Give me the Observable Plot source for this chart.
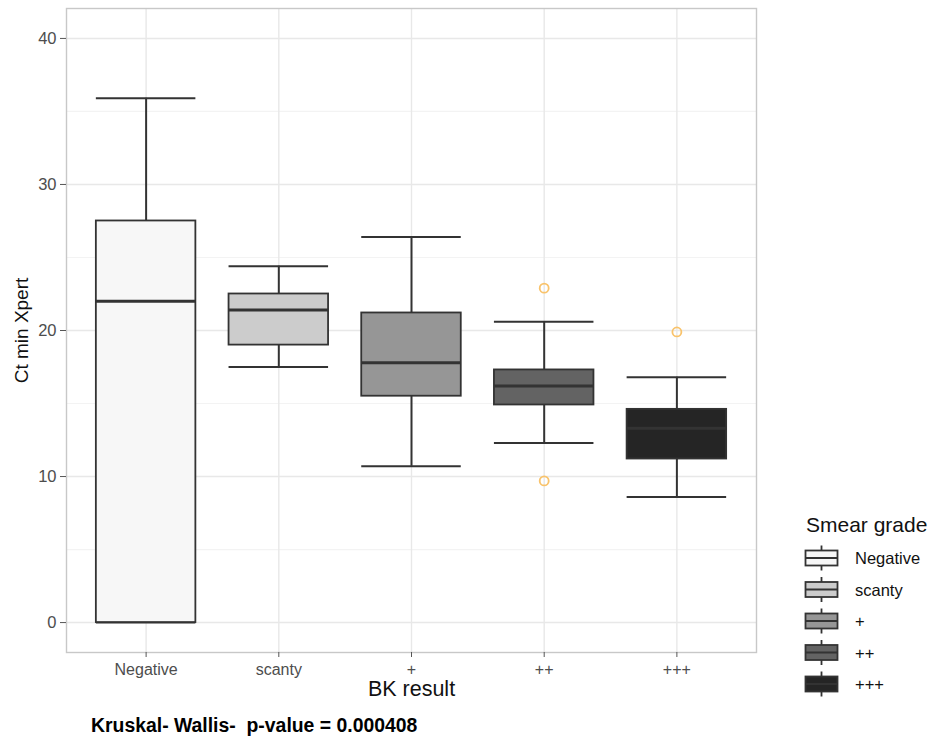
<!DOCTYPE html>
<html>
<head>
<meta charset="utf-8">
<script src="https://cdn.jsdelivr.net/npm/d3@7"></script>
<script src="https://cdn.jsdelivr.net/npm/@observablehq/plot@0.6"></script>
<style>
  html, body { margin: 0; padding: 0; background: #fff; }
  #wrap { position: relative; width: 945px; height: 736px; font-family: "Liberation Sans", Arial, sans-serif; }
  #chart { position: absolute; left: 0; top: 0; }
  #legend { position: absolute; left: 790px; top: 500px; }
  #caption { position: absolute; left: 91px; top: 714px; font-size: 19.4px; line-height: 22px; font-weight: bold; color: #000; white-space: pre; }
</style>
</head>
<body>
<div id="wrap">
  <div id="chart"></div>
  <div id="legend"></div>
  <div id="caption"></div>
</div>
<script>
// ---- data ----
const categories = ["Negative", "scanty", "+", "++", "+++"];
const upperWhisker = [35.9, 24.4, 26.4, 20.6, 16.8];
const q3 = [27.5, 22.5, 21.2, 17.3, 14.6];
const median = [22.0, 21.4, 17.8, 16.2, 13.3];
const q1 = [0.0, 19.0, 15.5, 14.9, 11.2];
const lowerWhisker = [0.0, 17.5, 10.7, 12.3, 8.6];
const outlierGroup = ["++", "++", "+++"];
const outlierValue = [22.9, 9.7, 19.9];
const fillColors = ["#f7f7f7", "#cccccc", "#969696", "#636363", "#252525"];
const yTicks = [0, 10, 20, 30, 40];
const yMinorTicks = [5, 15, 25, 35];
const xTitle = "BK result";
const yTitle = "Ct min Xpert";
const legendTitle = "Smear grade";
const captionText = "Kruskal- Wallis-  p-value = 0.000408";

const rows = categories.map((c, i) => ({
  cat: c, uw: upperWhisker[i], q3: q3[i], med: median[i], q1: q1[i], lw: lowerWhisker[i], fill: fillColors[i]
}));
const outliers = outlierGroup.map((g, i) => ({cat: g, v: outlierValue[i]}));

const lineColor = "#333333";

const chart = Plot.plot({
  width: 760,
  height: 705,
  marginLeft: 66,
  marginRight: 4,
  marginTop: 8,
  marginBottom: 53,
  style: {fontFamily: "Liberation Sans, Arial, sans-serif", background: "transparent"},
  x: {type: "band", domain: categories, paddingInner: 0.25, paddingOuter: 0.225, round: false},
  y: {domain: [-2.05, 42.05]},
  marks: [
    Plot.gridY(yMinorTicks, {stroke: "#f3f3f3", strokeOpacity: 1, strokeWidth: 1.2}),
    Plot.gridY(yTicks, {stroke: "#e8e8e8", strokeOpacity: 1, strokeWidth: 1.4}),
    Plot.gridX(categories, {stroke: "#e8e8e8", strokeOpacity: 1, strokeWidth: 1.4}),
    Plot.frame({stroke: "#c8c8c8", strokeWidth: 1.4}),
    Plot.ruleX(rows, {x: "cat", y1: "q3", y2: "uw", stroke: lineColor, strokeWidth: 2}),
    Plot.ruleX(rows, {x: "cat", y1: "lw", y2: "q1", stroke: lineColor, strokeWidth: 2}),
    Plot.tickY(rows, {x: "cat", y: "uw", stroke: lineColor, strokeWidth: 2}),
    Plot.tickY(rows, {x: "cat", y: "lw", stroke: lineColor, strokeWidth: 2}),
    Plot.barY(rows, {x: "cat", y1: "q1", y2: "q3", fill: "fill", stroke: lineColor, strokeWidth: 1.8}),
    Plot.tickY(rows, {x: "cat", y: "med", stroke: lineColor, strokeWidth: 3}),
    Plot.dot(outliers, {x: "cat", y: "v", r: 4.5, stroke: "#f9c36b", strokeWidth: 1.8, fill: "none"}),
    Plot.axisY(yTicks, {
      tickSize: 6, tickPadding: 4, fontSize: 16.5, color: "#4d4d4d", stroke: "#555", label: null
    }),
    Plot.text([yTitle], {
      frameAnchor: "left", dx: -45, rotate: -90, fontSize: 19, fill: "#111",
      textAnchor: "middle", lineAnchor: "middle"
    }),
    Plot.axisX(categories, {
      tickSize: 5, tickPadding: 6, fontSize: 16, color: "#4d4d4d", stroke: "#555",
      label: xTitle, labelAnchor: "center", labelArrow: "none", labelOffset: 43
    })
  ]
});
document.getElementById("chart").appendChild(chart);

// style x axis title
d3.select(chart).selectAll("text").each(function () {
  const t = this.textContent.trim();
  if (t === xTitle) d3.select(this).attr("fill", "#111").style("font-size", "21.5px");
});

// ---- legend ----
const lg = d3.select("#legend").append("svg").attr("width", 155).attr("height", 236)
  .style("font-family", "Liberation Sans, Arial, sans-serif");
lg.append("text").attr("x", 16).attr("y", 32).attr("fill", "#111")
  .style("font-size", "21px").text(legendTitle);
categories.forEach((c, i) => {
  const cy = 58 + 31.5 * i;
  const g = lg.append("g");
  g.append("line").attr("x1", 31.5).attr("x2", 31.5).attr("y1", cy - 12.5).attr("y2", cy + 12.5)
    .attr("stroke", lineColor).attr("stroke-width", 1.8);
  g.append("rect").attr("x", 15.5).attr("y", cy - 7.5).attr("width", 32).attr("height", 15)
    .attr("fill", fillColors[i]).attr("stroke", lineColor).attr("stroke-width", 1.8);
  g.append("line").attr("x1", 15.5).attr("x2", 47.5).attr("y1", cy).attr("y2", cy)
    .attr("stroke", lineColor).attr("stroke-width", 2.2);
  g.append("text").attr("x", 65).attr("y", cy + 6).attr("fill", "#111")
    .style("font-size", "16.5px").text(c);
});

document.getElementById("caption").textContent = captionText;
</script>
</body>
</html>
